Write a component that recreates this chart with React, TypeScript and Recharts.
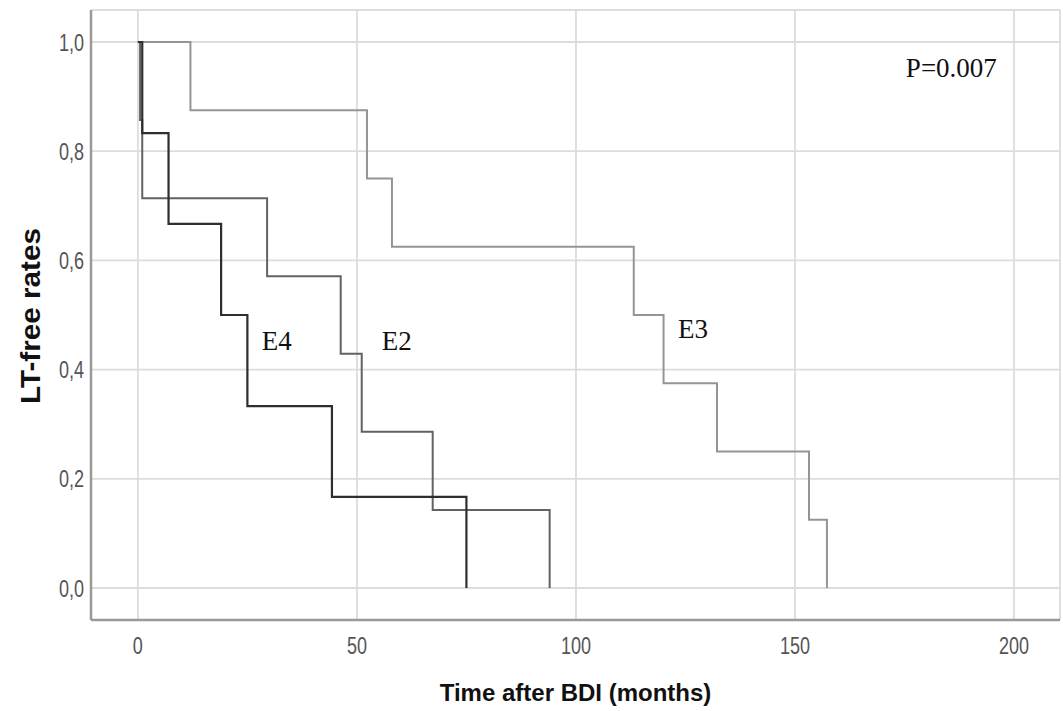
import { LineChart, Line, XAxis, YAxis, CartesianGrid, ReferenceDot } from 'recharts';

// Kaplan-Meier step points: time (months) where the rate changes, and the rate after it
const e4Times = [0, 1, 7, 19, 25, 44.3, 75];
const e4Rates = [1, 0.833, 0.667, 0.5, 0.333, 0.167, 0];

const e2Times = [0, 0.5, 1, 29.5, 46.3, 51.1, 67.3, 94];
const e2Rates = [1, 0.857, 0.714, 0.571, 0.429, 0.286, 0.143, 0];

const e3Times = [0, 12, 52.3, 58, 113.2, 120, 132.2, 153.2, 157.3];
const e3Rates = [1, 0.875, 0.75, 0.625, 0.5, 0.375, 0.25, 0.125, 0];

const xTicks = [0, 50, 100, 150, 200];
const yTicks = [0, 0.2, 0.4, 0.6, 0.8, 1.0];

const toSteps = (times: number[], rates: number[]) =>
  times.map((t, i) => ({ t, rate: rates[i] }));

const e4Data = toSteps(e4Times, e4Rates);
const e2Data = toSteps(e2Times, e2Rates);
const e3Data = toSteps(e3Times, e3Rates);

const sansFont = 'Arial, "Liberation Sans", sans-serif';
const serifFont = '"Liberation Serif", "Times New Roman", serif';

const labelStyle = { fontFamily: serifFont, fontSize: 27, fill: '#111' };

// SPSS-like tick text: narrow and a bit tall
const XTick = ({ x, y, payload }: any) => (
  <text
    transform={`translate(${x},${y}) scale(0.95,1.25)`}
    textAnchor="middle"
    dy="0.716em"
    fill="#555"
    fontSize={19}
    fontFamily={sansFont}
  >
    {payload.value}
  </text>
);

const YTick = ({ x, y, payload }: any) => (
  <text
    transform={`translate(${x},${y}) scale(0.95,1.25)`}
    textAnchor="end"
    dy="0.358em"
    fill="#555"
    fontSize={19}
    fontFamily={sansFont}
  >
    {Number(payload.value).toFixed(1).replace('.', ',')}
  </text>
);

const YTitle = () => (
  <text
    transform="translate(30,316) rotate(-90) scale(1.1,1)"
    textAnchor="middle"
    dy="0.36em"
    fontFamily={sansFont}
    fontWeight="bold"
    fontSize={27}
    fill="#111"
  >
    LT-free rates
  </text>
);

export default function App() {
  return (
    <div style={{ position: 'absolute', left: 0, top: 0, background: '#fff' }}>
      <LineChart width={1063} height={711} margin={{ top: 10, right: 3, left: 0, bottom: 0 }}>
        <CartesianGrid stroke="#dcdcdc" strokeWidth={1.8} />
        <XAxis
          type="number"
          dataKey="t"
          domain={[-10.7, 210.5]}
          ticks={xTicks}
          allowDataOverflow
          height={91}
          tickLine={false}
          tickSize={0}
          tickMargin={17}
          axisLine={{ stroke: '#999', strokeWidth: 2.5 }}
          tick={<XTick />}
          label={{
            value: 'Time after BDI (months)',
            position: 'insideBottom',
            offset: 10,
            style: { fontFamily: sansFont, fontWeight: 'bold', fontSize: 24, fill: '#111' },
          }}
        />
        <YAxis
          type="number"
          dataKey="rate"
          domain={[-0.0586, 1.0586]}
          ticks={yTicks}
          allowDataOverflow
          width={91}
          tickLine={false}
          tickSize={0}
          tickMargin={7}
          axisLine={{ stroke: '#999', strokeWidth: 2.5 }}
          tick={<YTick />}
          label={{ content: () => <YTitle /> }}
        />
        <Line data={e3Data} dataKey="rate" type="stepAfter" stroke="#959595" strokeWidth={2} dot={false} isAnimationActive={false} />
        <Line data={e2Data} dataKey="rate" type="stepAfter" stroke="#626262" strokeWidth={2} dot={false} isAnimationActive={false} />
        <Line data={e4Data} dataKey="rate" type="stepAfter" stroke="#2e2e2e" strokeWidth={2.2} dot={false} isAnimationActive={false} />
        <ReferenceDot x={31.7} y={0.454} r={0} label={{ value: 'E4', position: 'center', style: labelStyle }} />
        <ReferenceDot x={59.1} y={0.454} r={0} label={{ value: 'E2', position: 'center', style: labelStyle }} />
        <ReferenceDot x={126.7} y={0.476} r={0} label={{ value: 'E3', position: 'center', style: labelStyle }} />
        <ReferenceDot x={185.7} y={0.953} r={0} label={{ value: 'P=0.007', position: 'center', style: labelStyle }} />
      </LineChart>
    </div>
  );
}
